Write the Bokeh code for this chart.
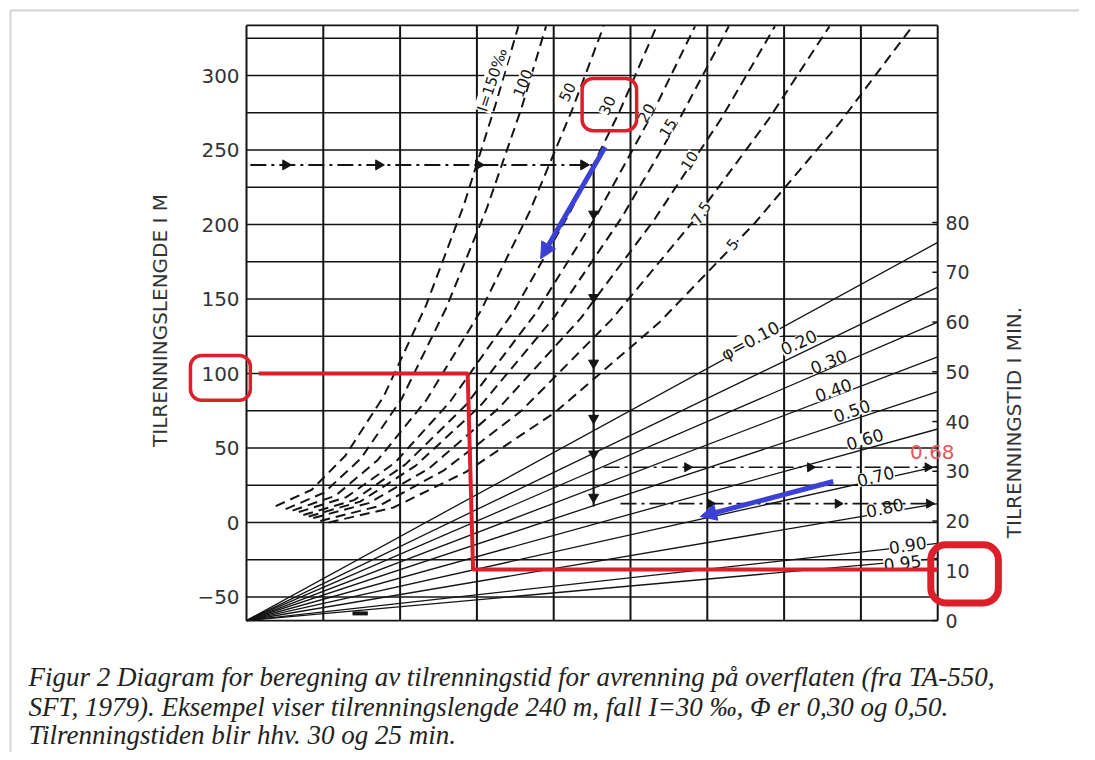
import numpy as np
from bokeh.plotting import figure
from bokeh.models import Range1d, Label, BoxAnnotation, Arrow, NormalHead
from bokeh.core.properties import value
from bokeh.embed import file_html
from bokeh.resources import INLINE

# ---------------- data ----------------
left_ticks = [-50, 0, 50, 100, 150, 200, 250, 300]
left_tick_labels = ["−50", "0", "50", "100", "150", "200", "250", "300"]
right_ticks = [0, 10, 20, 30, 40, 50, 60, 70, 80]
right_tick_labels = ["0", "10", "20", "30", "40", "50", "60", "70", "80"]
grid_x = [0, 1, 2, 3, 4, 5, 6, 7, 8, 9]
grid_y = [-50, -25, 0, 25, 50, 75, 100, 125, 150, 175, 200, 225, 250, 275, 300, 325]

# dashed slope curves (I in promille): x = grid units, y = tilrenningslengde (m)
slope_names = ["I=150‰", "100", "50", "30", "20", "15", "10", "7.5", "5"]
curve_150_x = [0.38, 0.85, 1.29, 1.79, 2.34, 2.83, 3.24, 3.54]
curve_150_y = [11, 22, 45, 85, 146, 213, 280, 333]
curve_100_x = [0.51, 1.01, 1.49, 2.02, 2.60, 3.13, 3.58, 3.90]
curve_100_y = [9, 20, 43, 83, 144, 211, 278, 333]
curve_50_x = [0.60, 1.16, 1.71, 2.34, 3.05, 3.69, 4.24, 4.65]
curve_50_y = [8, 18, 42, 82, 142, 209, 277, 333]
curve_30_x = [0.68, 1.30, 1.93, 2.65, 3.47, 4.21, 4.85, 5.34]
curve_30_y = [7, 17, 40, 81, 141, 208, 275, 333]
curve_20_x = [0.74, 1.40, 2.07, 2.86, 3.76, 4.57, 5.28, 5.84]
curve_20_y = [5, 15, 39, 79, 140, 207, 274, 333]
curve_15_x = [0.81, 1.48, 2.20, 3.04, 4.01, 4.89, 5.66, 6.28]
curve_15_y = [4, 14, 38, 78, 138, 205, 273, 333]
curve_10_x = [0.87, 1.59, 2.37, 3.29, 4.35, 5.32, 6.18, 6.88]
curve_10_y = [3, 13, 36, 77, 137, 204, 271, 333]
curve_7_5_x = [0.96, 1.72, 2.57, 3.58, 4.75, 5.83, 6.79, 7.59]
curve_7_5_y = [1, 11, 35, 75, 136, 203, 270, 333]
curve_5_x = [1.07, 1.91, 2.86, 4.02, 5.37, 6.62, 7.72, 8.67]
curve_5_y = [0, 10, 34, 74, 134, 201, 268, 333]

slope_label_x = [3.20, 3.59, 4.17, 4.69, 5.20, 5.48, 5.76, 5.91, 6.32]
slope_label_y = [297, 295, 289, 280, 275, 265, 243, 208, 187]
slope_label_angle = [72, 68, 64, 65, 60, 58, 58, 58, 50]

# runoff coefficient lines: tilrenningstid (min) reached at right edge
phi_names = ["φ=0.10", "0.20", "0.30", "0.40", "0.50", "0.60", "0.70", "0.80", "0.90", "0.95"]
phi_end_min = [76, 67, 60, 53, 46, 38.5, 31, 23.5, 15.5, 12.5]
phi_label_x = [6.56, 7.19, 7.58, 7.64, 7.88, 8.05, 8.19, 8.31, 8.61, 8.54]
phi_label_y = [122, 121, 108, 89, 75, 56, 31, 10, -15, -27]
phi_label_angle = [28, 25, 22, 20, 19, 17, 14, 12, 9, 7]

# worked example (black arrows)
ex_len_y = 240
ex_h_x = [0.05, 4.52]
ex_h_heads = [0.51, 1.72, 3.02, 4.39]
ex_v_x = 4.52
ex_v_y = [240, 10.7]
ex_v_heads = [207, 151, 107, 70, 46, 17]
ex_t1 = 30.8
ex_t1_x = [4.65, 9.0]
ex_t1_heads = [5.74, 7.34, 8.87]
ex_t2 = 23.5
ex_t2_x = [4.87, 9.0]
ex_t2_heads = [6.04, 7.70, 8.89]
ex_small_x = [1.38, 1.58]
ex_small_y = -61

# red overlay
red_path_x = [0.16, 2.88, 2.95, 9.0]
red_path_y = [100, 100, -31.5, -31.5]
red_box_100 = (-0.73, 0.05, 112, 82)
red_box_10 = (8.91, 9.79, -15, -54)
red_box_30 = (4.37, 5.08, 298, 263)
red_text = "0.68"
red_text_xy = (8.93, 47)

# blue overlay arrows (tail -> tip)
blue1 = (4.67, 252, 3.83, 177)
blue2 = (7.64, 27.5, 5.91, 4.0)

caption = ["Figur 2 Diagram for beregning av tilrenningstid for avrenning på overflaten (fra TA-550,",
           "SFT, 1979). Eksempel viser tilrenningslengde 240 m, fall I=30 ‰, Φ er 0,30 og 0,50.",
           "Tilrenningstiden blir hhv. 30 og 25 min."]
caption_y = [-103.4, -123.5, -142.3]

# ---------------- layout constants ----------------
W, H = 1079, 752
PX_X, PX_Y = 76.8, 1.49          # pixels per grid unit / per metre
X0_PAGE, Y0_PAGE = 246, 522      # pixel of x=0, y=0 on the canvas
GB, GT = -65.8, 333.6            # grid frame bottom / top (m)
M_PER_MIN = 3.339                # metres of left scale per minute of right scale

XL = (0 - X0_PAGE) / PX_X
XR = (W - X0_PAGE) / PX_X
YT = (Y0_PAGE - 0) / PX_Y
YB = (Y0_PAGE - H) / PX_Y
BX = (10 - X0_PAGE) / PX_X       # faint page border
BY = (Y0_PAGE - 10) / PX_Y

p = figure(width=W, height=H, output_backend="svg", toolbar_location=None,
           x_range=Range1d(XL, XR), y_range=Range1d(YB, YT),
           x_axis_location=None, y_axis_location=None, min_border=0,
           background_fill_color="white", border_fill_color="white")
p.outline_line_color = None
p.xgrid.grid_line_color = None
p.ygrid.grid_line_color = None
p.extra_y_ranges = {"t": Range1d((YB - GB) / M_PER_MIN, (YT - GB) / M_PER_MIN)}

INK = "#141414"

# faint scan border
p.line(x=[XR, BX, BX], y=[BY, BY, YB], line_color="#d4d4d4", line_width=2)

# grid
p.segment(x0=grid_x, y0=[GB] * len(grid_x), x1=grid_x, y1=[GT] * len(grid_x),
          line_color=INK, line_width=2)
hy = [GB] + grid_y + [GT]
p.segment(x0=[0] * len(hy), y0=hy, x1=[9] * len(hy), y1=hy, line_color=INK, line_width=1.7)
p.segment(x0=[8.93] * len(right_ticks), y0=right_ticks, x1=[9] * len(right_ticks),
          y1=right_ticks, y_range_name="t", line_color=INK, line_width=1.5)

# tick labels
p.text(x=[-0.09] * len(left_ticks), y=left_ticks, text=left_tick_labels,
       text_align="right", text_baseline="middle", text_font=value("DejaVu Sans"),
       text_font_size="20px", text_color="#333333")
p.text(x=[9.10] * len(right_ticks), y=right_ticks, text=right_tick_labels,
       y_range_name="t", text_align="left", text_baseline="middle",
       text_font=value("DejaVu Sans"), text_font_size="19px", text_color="#333333")

# axis titles
p.text(x=[-1.12], y=[135.6], text=["TILRENNINGSLENGDE I M"], angle=90, angle_units="deg",
       text_align="center", text_baseline="middle", text_font=value("DejaVu Sans"),
       text_font_size="20px", text_color="#333333")
p.text(x=[9.99], y=[67.1], text=["TILRENNINGSTID I MIN."], angle=90, angle_units="deg",
       text_align="center", text_baseline="middle", text_font=value("DejaVu Sans"),
       text_font_size="20px", text_color="#333333")

# phi lines
p.multi_line(xs=[[0, 9] for _ in phi_end_min], ys=[[0, t] for t in phi_end_min],
             y_range_name="t", line_color=INK, line_width=1.3)

# dashed slope curves
cx = [curve_150_x, curve_100_x, curve_50_x, curve_30_x, curve_20_x, curve_15_x,
      curve_10_x, curve_7_5_x, curve_5_x]
cy = [curve_150_y, curve_100_y, curve_50_y, curve_30_y, curve_20_y, curve_15_y,
      curve_10_y, curve_7_5_y, curve_5_y]
p.multi_line(xs=cx, ys=cy, line_color=INK, line_width=2, line_dash="10 6")

# curve labels
p.text(x=slope_label_x, y=slope_label_y, text=slope_names, angle=slope_label_angle,
       angle_units="deg", text_align="center", text_baseline="middle",
       text_font=value("DejaVu Sans"), text_font_size="15px", text_color=INK,
       background_fill_color="white")
p.text(x=phi_label_x, y=phi_label_y, text=phi_names, angle=phi_label_angle,
       angle_units="deg", text_align="center", text_baseline="middle",
       text_font=value("DejaVu Sans"), text_font_size="17px", text_color=INK,
       background_fill_color="white")

# black example arrows
p.line(x=ex_h_x, y=[ex_len_y, ex_len_y], line_color=INK, line_width=2, line_dash="16 5 3 5")
p.scatter(x=ex_h_heads, y=[ex_len_y] * len(ex_h_heads), marker="triangle", size=10,
          angle=-np.pi / 2, color=INK)
p.line(x=[ex_v_x, ex_v_x], y=ex_v_y, line_color=INK, line_width=2.2)
p.scatter(x=[ex_v_x] * len(ex_v_heads), y=ex_v_heads, marker="triangle", size=10,
          angle=np.pi, color=INK)
p.line(x=ex_t1_x, y=[ex_t1, ex_t1], y_range_name="t", line_color=INK,
       line_width=1.6, line_dash="16 5 3 5")
p.scatter(x=ex_t1_heads, y=[ex_t1] * len(ex_t1_heads), y_range_name="t",
          marker="triangle", size=9, angle=-np.pi / 2, color=INK)
p.line(x=ex_t2_x, y=[ex_t2, ex_t2], y_range_name="t", line_color=INK,
       line_width=1.6, line_dash="16 5 3 5")
p.scatter(x=ex_t2_heads, y=[ex_t2] * len(ex_t2_heads), y_range_name="t",
          marker="triangle", size=9, angle=-np.pi / 2, color=INK)
p.line(x=ex_small_x, y=[ex_small_y, ex_small_y], line_color=INK, line_width=4)

# red overlay
RED = "#dd1f2a"
p.line(x=red_path_x, y=red_path_y, line_color=RED, line_width=4)
for (l, r, t, b), w, rad in [(red_box_100, 3.5, 11), (red_box_10, 7, 15), (red_box_30, 3.5, 11)]:
    p.add_layout(BoxAnnotation(left=l, right=r, top=t, bottom=b, fill_color=None,
                               fill_alpha=0, line_color=RED, line_alpha=1.0,
                               line_width=w, border_radius=rad))
p.add_layout(Label(x=red_text_xy[0], y=red_text_xy[1], text=red_text,
                   text_font="DejaVu Sans", text_font_size="20px",
                   text_color="#e05a5a", text_align="center", text_baseline="middle"))

# blue overlay arrows
BLUE = "#3b40d6"
for xs, ys, xe, ye in [blue1, blue2]:
    p.add_layout(Arrow(x_start=xs, y_start=ys, x_end=xe, y_end=ye, line_color=BLUE,
                       line_width=5,
                       end=NormalHead(size=16, fill_color=BLUE, line_color=BLUE)))

# caption
p.text(x=[-2.84] * len(caption), y=caption_y, text=caption, text_align="left",
       text_baseline="middle", text_font=value("Liberation Serif"),
       text_font_style="italic", text_font_size="27px", text_color="#222222")

open("out.html", "w").write(file_html(p, INLINE))
